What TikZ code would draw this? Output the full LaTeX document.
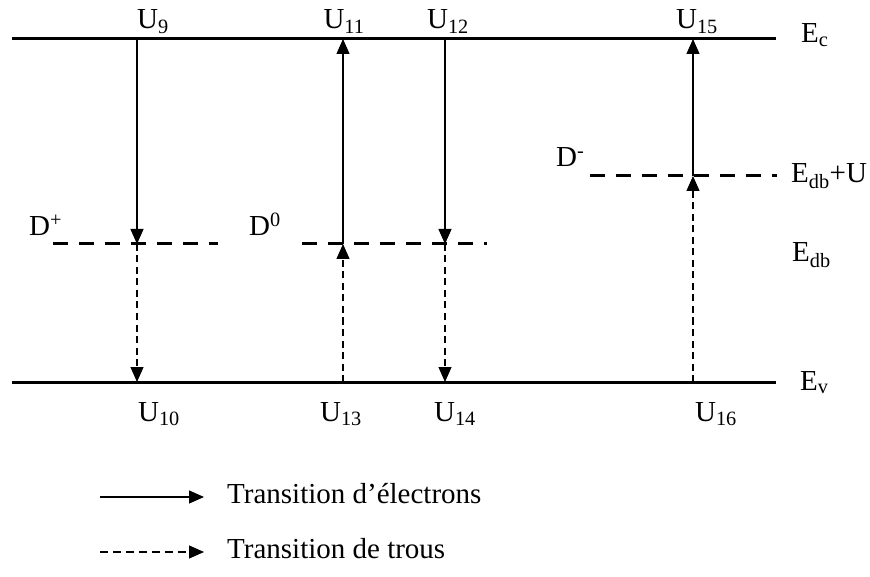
\documentclass[tikz,border=0pt]{standalone}
\usepackage{fontspec}
\setmainfont{Liberation Serif}
\usetikzlibrary{arrows.meta}
\newcommand{\fsz}{\fontsize{29}{35}\selectfont}
\begin{document}
\begin{tikzpicture}[x=1pt,y=1pt,
  band/.style={line width=3pt},
  dlevel/.style={line width=3pt, dash pattern=on 15pt off 11pt},
  etr/.style={line width=1.2pt, -{Triangle[width=13pt,length=15pt]}},
  htr/.style={etr, dash pattern=on 7pt off 4.5pt},
  lbl/.style={font=\fsz, inner sep=0pt}]
\useasboundingbox (0,0) rectangle (870,-577);
% bands
\coordinate (ecL) at (12,-39); \coordinate (ecR) at (776,-39);
\coordinate (evL) at (12,-382); \coordinate (evR) at (776,-382);
\draw[band] (ecL) -- (ecR);
\draw[band] (evL) -- (evR);
% defect levels
\coordinate (dpL) at (53,-244); \coordinate (dpR) at (218,-244);
\coordinate (dzL) at (302,-244); \coordinate (dzR) at (487,-244);
\coordinate (dmL) at (590,-176); \coordinate (dmR) at (777,-176);
\draw[dlevel] (dpL) -- (dpR);
\draw[dlevel] (dzL) -- (dzR);
\draw[dlevel] (dmL) -- (dmR);
% transition points
\coordinate (a1) at (137,-39); \coordinate (a2) at (137,-244); \coordinate (a3) at (137,-382);
\coordinate (b1) at (343,-39); \coordinate (b2) at (343,-244); \coordinate (b3) at (343,-382);
\coordinate (c1) at (445,-39); \coordinate (c2) at (445,-244); \coordinate (c3) at (445,-382);
\coordinate (d1) at (693,-39); \coordinate (d2) at (693,-176); \coordinate (d3) at (693,-382);
\draw[etr] (a1) -- (a2);
\draw[htr] (a2) -- (a3);
\draw[htr] (b3) -- (b2);
\draw[etr] (b2) -- (b1);
\draw[etr] (c1) -- (c2);
\draw[htr] (c2) -- (c3);
\draw[htr] (d3) -- (d2);
\draw[etr] (d2) -- (d1);
% U labels
\node[lbl, anchor=base] (u9) at (153,-29) {U\textsubscript{9}};
\node[lbl, anchor=base] (u11) at (344,-29) {U\textsubscript{11}};
\node[lbl, anchor=base] (u12) at (448,-29) {U\textsubscript{12}};
\node[lbl, anchor=base] (u15) at (697,-29) {U\textsubscript{15}};
\node[lbl, anchor=base] (u10) at (159,-421) {U\textsubscript{10}};
\node[lbl, anchor=base] (u13) at (341,-421) {U\textsubscript{13}};
\node[lbl, anchor=base] (u14) at (455,-421) {U\textsubscript{14}};
\node[lbl, anchor=base] (u16) at (716,-421) {U\textsubscript{16}};
% level labels
\node[lbl, anchor=base west] (ec) at (801,-43) {E\textsubscript{c}};
\node[lbl, anchor=base west] (edbu) at (791,-183) {E\textsubscript{db}+U};
\node[lbl, anchor=base west] (edb) at (792,-262) {E\textsubscript{db}};
\node[lbl, anchor=base west] (ev) at (800,-390) {E\textsubscript{v}};
\node[lbl, anchor=base west] (dp) at (29,-236) {D\textsuperscript{+}};
\node[lbl, anchor=base west] (dz) at (249,-236) {D\textsuperscript{0}};
\node[lbl, anchor=base west] (dm) at (556,-167) {D\textsuperscript{-}};
% legend
\coordinate (l1a) at (100,-497); \coordinate (l1b) at (204,-497);
\coordinate (l2a) at (100,-552); \coordinate (l2b) at (204,-552);
\draw[etr] (l1a) -- (l1b);
\draw[htr, dash pattern=on 8pt off 5pt] (l2a) -- (l2b);
\node[lbl, anchor=base west] (t1) at (227,-503) {Transition d’électrons};
\node[lbl, anchor=base west] (t2) at (227,-558) {Transition de trous};
\end{tikzpicture}
\end{document}
